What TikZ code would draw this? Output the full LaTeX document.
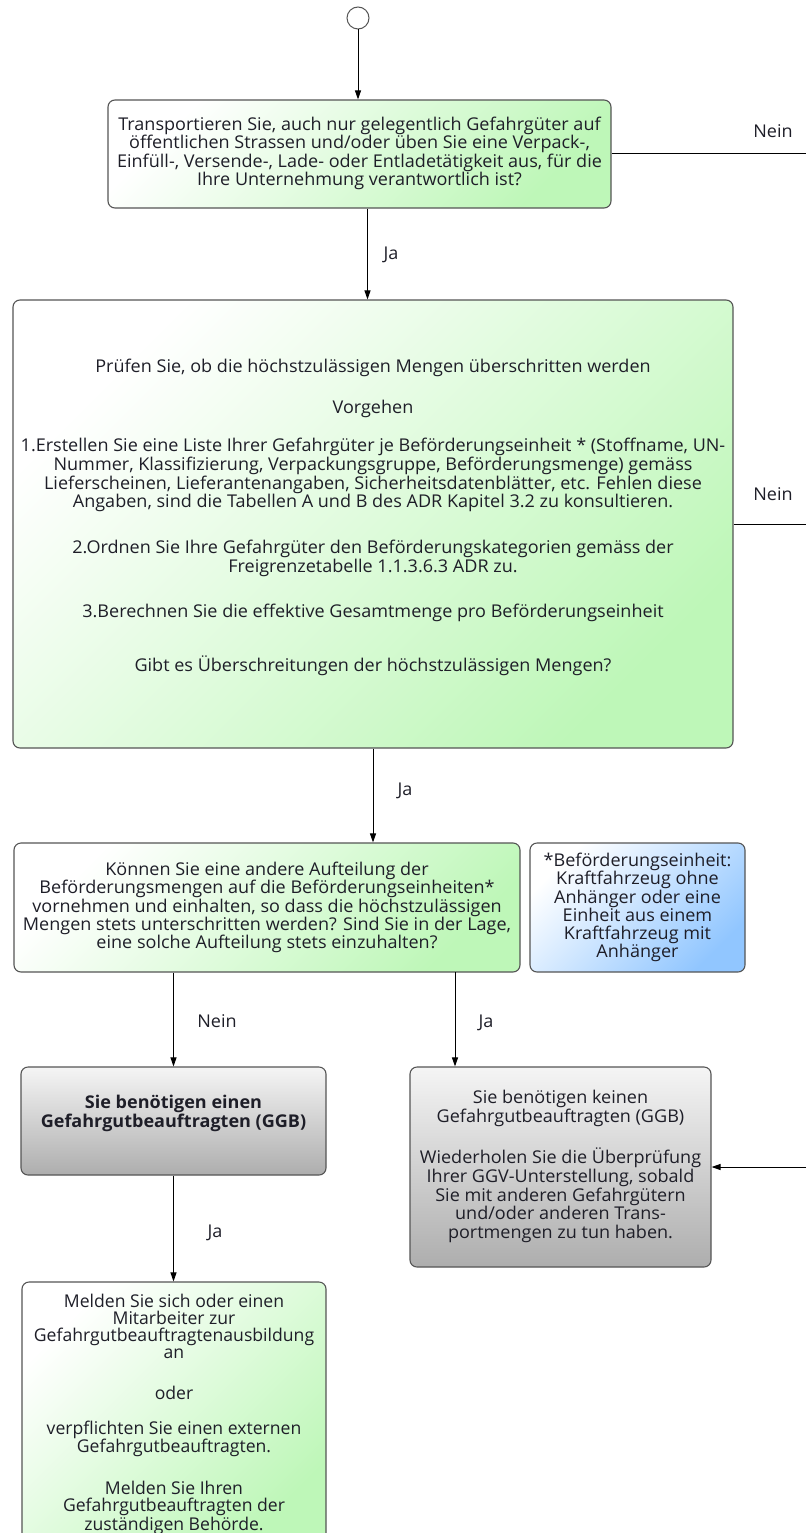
\documentclass[tikz,border=0pt]{standalone}
\usepackage{fontspec}
\setmainfont{Open Sans}
\newfontfamily\wfont[FakeStretch=1.025]{Open Sans}
\usetikzlibrary{arrows.meta}
\definecolor{gr}{RGB}{190,247,184}
\definecolor{bl}{RGB}{145,198,255}
\definecolor{bord}{RGB}{85,85,85}
\definecolor{txt}{RGB}{30,30,40}
\newcommand{\dfont}{\wfont\fontsize{17.6}{17}\selectfont}
\newcommand{\efont}{\wfont\fontsize{17.6}{18.2}\selectfont}
\newcommand{\ffont}{\fontsize{17.6}{17}\selectfont}
\tikzset{
  base/.style={draw=bord, line width=1.1pt, rounded corners=7pt, align=center, inner sep=0pt, text=txt,
    font=\dfont},
  greenbox/.style={base, top color=white, bottom color=gr, shading angle=45},
  bluebox/.style={base, top color=white, bottom color=bl, shading angle=45},
  graybox/.style={base, top color=black!4, bottom color=black!32},
  arr/.style={line width=1pt, -{Triangle[length=9pt,width=6pt]}},
  ln/.style={line width=1pt},
  lbl/.style={font=\dfont, text=txt, inner sep=0pt}
}
\begin{document}
\begin{tikzpicture}[x=1pt,y=-1pt]
\useasboundingbox (0,0) rectangle (806,1533);
\node[draw=bord, line width=1pt, circle, minimum size=22pt, inner sep=0pt] (start) at (358,18) {};

\node[greenbox, minimum width=503pt, minimum height=108pt] (b1) at (359.5,154)
 {\raisebox{-5pt}{\begin{tabular}{@{}c@{}}
  Transportieren Sie, auch nur gelegentlich Gefahrgüter auf\\
  öffentlichen Strassen und/oder üben Sie eine Verpack-,\\
  Einfüll-, Versende-, Lade- oder Entladetätigkeit aus, für die\\
  Ihre Unternehmung verantwortlich ist?\end{tabular}}};

\node[greenbox, minimum width=720pt, minimum height=448pt] (b2) at (373,524)
 {Prüfen Sie, ob die höchstzulässigen Mengen überschritten werden\\[22pt]
  Vorgehen\\[20pt]
  1.Erstellen Sie eine Liste Ihrer Gefahrgüter je Beförderungseinheit * (Stoffname, UN-\\
  Nummer, Klassifizierung, Verpackungsgruppe, Beförderungsmenge) gemäss\\
  Lieferscheinen, Lieferantenangaben, Sicherheitsdatenblätter, etc. Fehlen diese\\
  Angaben, sind die Tabellen A und B des ADR Kapitel 3.2 zu konsultieren.\\[27pt]
  2.Ordnen Sie Ihre Gefahrgüter den Beförderungskategorien gemäss der\\
  Freigrenzetabelle 1.1.3.6.3 ADR zu.\\[27pt]
  3.Berechnen Sie die effektive Gesamtmenge pro Beförderungseinheit\\[33pt]
  Gibt es Überschreitungen der höchstzulässigen Mengen?\\[0pt]\mbox{}};

\node[greenbox, font=\efont, minimum width=506pt, minimum height=129pt] (b3) at (267,907.5)
 {Können Sie eine andere Aufteilung der\\
  Beförderungsmengen auf die Beförderungseinheiten*\\
  vornehmen und einhalten, so dass die höchstzulässigen\\
  Mengen stets unterschritten werden? Sind Sie in der Lage,\\
  eine solche Aufteilung stets einzuhalten?};

\node[bluebox, font=\efont, minimum width=215pt, minimum height=129pt] (note) at (637.5,907.5)
 {*Beförderungseinheit:\\
  Kraftfahrzeug ohne\\
  Anhänger oder eine\\
  Einheit aus einem\\
  Kraftfahrzeug mit\\
  Anhänger};

\node[graybox, minimum width=305pt, minimum height=108pt] (b4) at (173.5,1121)
 {\bfseries Sie benötigen einen\\
  \bfseries Gefahrgutbeauftragten (GGB)\\[2pt]\mbox{}};

\node[graybox, font=\efont, minimum width=301pt, minimum height=200pt] (b5) at (560.5,1167)
 {\raisebox{-5pt}{\begin{tabular}{@{}c@{}}
  Sie benötigen keinen\\
  Gefahrgutbeauftragten (GGB)\\[20pt]
  Wiederholen Sie die Überprüfung\\
  Ihrer GGV-Unterstellung, sobald\\
  Sie mit anderen Gefahrgütern\\
  und/oder anderen Trans-\\
  portmengen zu tun haben.\end{tabular}}};

\node[greenbox, font=\ffont, minimum width=304pt, minimum height=264pt] (b6) at (174,1414)
 {Melden Sie sich oder einen\\
  Mitarbeiter zur\\
  Gefahrgutbeauftragtenausbildung\\
  an\\[24pt]
  oder\\[18pt]
  verpflichten Sie einen externen\\
  Gefahrgutbeauftragten.\\[23pt]
  Melden Sie Ihren\\
  Gefahrgutbeauftragten der\\
  zuständigen Behörde.};

% connectors
\draw[arr] (start.south) -- (start.south |- b1.north);
\draw[arr] ([xshift=8pt]b1.south) -- ([xshift=8pt]b1.south |- b2.north);
\draw[arr] (b2.south) -- (b2.south |- b3.north);
\draw[arr] (b4.north |- b3.south) -- (b4.north);
\coordinate (j2) at (455,972);
\draw[arr] (j2) -- (j2 |- b5.north);
\draw[arr] (b4.south) -- (b4.south |- b6.north);

\coordinate (e1) at (806,154);
\draw[ln] (b1.east) -- (e1);
\coordinate (e2) at (806,524);
\draw[ln] (b2.east) -- (e2);
\coordinate (e3) at (806,1167);
\draw[arr] (e3) -- (b5.east);

% labels
\node[lbl] (l1) at (773,131) {Nein};
\node[lbl] (l2) at (773,494) {Nein};
\node[lbl] (l3) at (391,255) {Ja};
\node[lbl] (l4) at (405,791) {Ja};
\node[lbl] (l5) at (217,1021) {Nein};
\node[lbl] (l6) at (486,1023) {Ja};
\node[lbl] (l7) at (215,1233) {Ja};
\end{tikzpicture}
\end{document}
